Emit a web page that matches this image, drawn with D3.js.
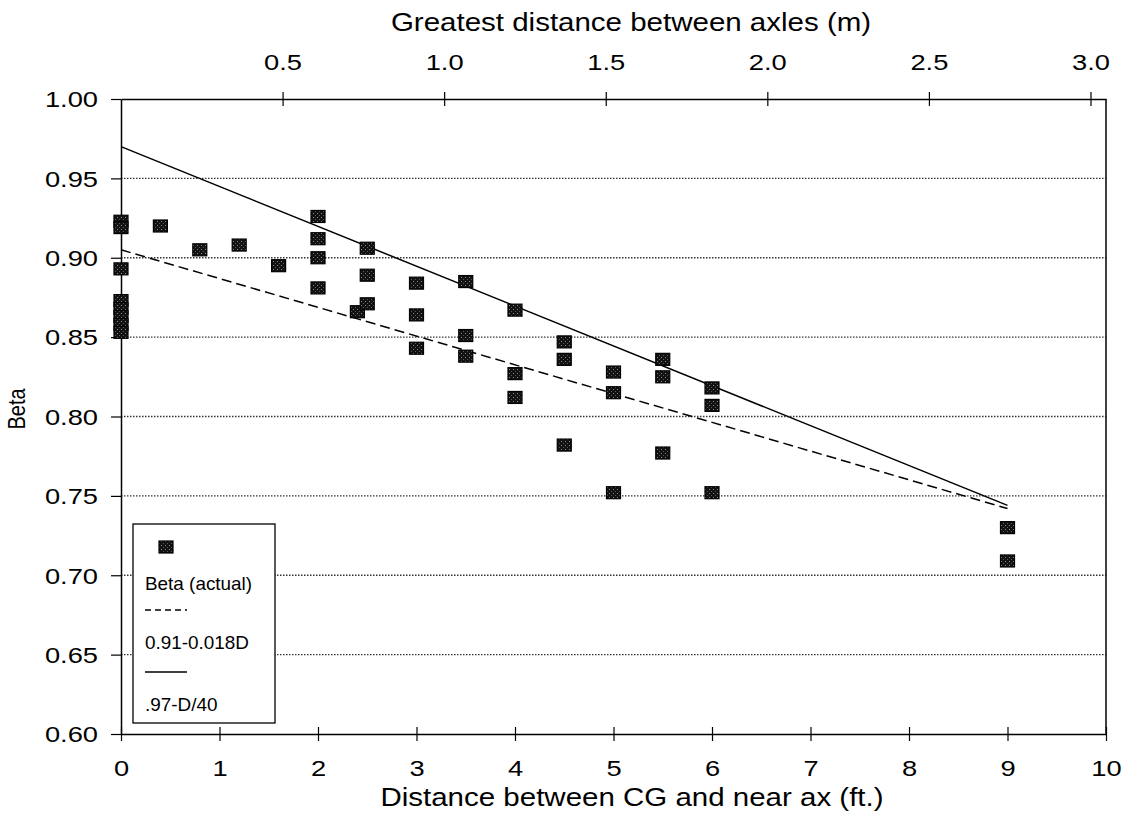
<!DOCTYPE html>
<html>
<head>
<meta charset="utf-8">
<script src="https://cdn.jsdelivr.net/npm/d3@7"></script>
<style>
  html, body { margin: 0; padding: 0; background: #fff; }
  svg { display: block; font-family: "Liberation Sans", Arial, sans-serif; }
</style>
</head>
<body>
<svg id="chart" width="1122" height="827"></svg>
<script>
// ---- data ----
const distFt = [0, 0, 0, 0, 0, 0, 0, 0,
  0.4, 0.8, 1.2, 1.6,
  2, 2, 2, 2,
  2.4,
  2.5, 2.5, 2.5,
  3, 3, 3,
  3.5, 3.5, 3.5,
  4, 4, 4,
  4.5, 4.5, 4.5,
  5, 5, 5,
  5.5, 5.5, 5.5,
  6, 6, 6,
  9, 9];
const betaActual = [0.923, 0.919, 0.893, 0.873, 0.868, 0.863, 0.858, 0.853,
  0.920, 0.905, 0.908, 0.895,
  0.926, 0.912, 0.900, 0.881,
  0.866,
  0.906, 0.889, 0.871,
  0.884, 0.864, 0.843,
  0.885, 0.851, 0.838,
  0.867, 0.827, 0.812,
  0.847, 0.836, 0.782,
  0.828, 0.815, 0.752,
  0.836, 0.825, 0.777,
  0.818, 0.807, 0.752,
  0.730, 0.709];
// fitted lines, endpoints as drawn
const dashedLineX = [0, 9];
const dashedLineY = [0.905, 0.742];
const solidLineX = [0, 9];
const solidLineY = [0.970, 0.744];

const xTicksFt = [0, 1, 2, 3, 4, 5, 6, 7, 8, 9, 10];
const xTicksM = [0.5, 1.0, 1.5, 2.0, 2.5, 3.0];
const yTicks = [0.60, 0.65, 0.70, 0.75, 0.80, 0.85, 0.90, 0.95, 1.00];
const gridTicks = [0.65, 0.70, 0.75, 0.80, 0.85, 0.90, 0.95];
const legendLabels = ["Beta (actual)", "0.91-0.018D", ".97-D/40"];
const xTitle = "Distance between CG and near ax (ft.)";
const topTitle = "Greatest distance between axles  (m)";
const yTitle = "Beta";

// ---- layout ----
const SX = 1.18;   // horizontal stretch of the scanned lettering (titles)
const SXT = 1.27;  // stretch for tick labels
const svg = d3.select("#chart");
const x = d3.scaleLinear().domain([0, 10]).range([121, 1106]);
const xTop = d3.scaleLinear().domain([0, 3.048]).range([121, 1106]);
const y = d3.scaleLinear().domain([0.6, 1.0]).range([734, 99]);

// pattern for speckled markers
const defs = svg.append("defs");
const pat = defs.append("pattern").attr("id", "speck")
  .attr("width", 4).attr("height", 4).attr("patternUnits", "userSpaceOnUse");
pat.append("rect").attr("width", 4).attr("height", 4).attr("fill", "#121212");
pat.append("rect").attr("x", 1).attr("y", 1).attr("width", 1).attr("height", 1).attr("fill", "#8a8a8a");
pat.append("rect").attr("x", 3).attr("y", 3).attr("width", 1).attr("height", 1).attr("fill", "#5a5a5a");

// gridlines
svg.append("g").selectAll("line").data(gridTicks).join("line")
  .attr("x1", x(0)).attr("x2", x(10))
  .attr("y1", d => y(d)).attr("y2", d => y(d))
  .attr("stroke", "#333").attr("stroke-width", 1.3)
  .attr("stroke-dasharray", "1.5,1.5");

// right border
svg.append("line").attr("x1", x(10)).attr("x2", x(10)).attr("y1", y(1.0)).attr("y2", y(0.6))
  .attr("stroke", "#000").attr("stroke-width", 1.5);

// bottom axis
const gB = svg.append("g").attr("transform", `translate(0,${y(0.6)})`)
  .call(d3.axisBottom(x).tickValues(xTicksFt).tickFormat(d3.format("d")).tickSizeInner(7).tickSizeOuter(0));
gB.selectAll(".tick line").attr("y1", -7).attr("y2", 7);
gB.selectAll(".tick text").attr("y", 42).attr("dy", 0)
  .attr("font-size", 21.5).attr("transform", `scale(${SXT},1)`);

// left axis
const gL = svg.append("g").attr("transform", `translate(${x(0)},0)`)
  .call(d3.axisLeft(y).tickValues(yTicks).tickFormat(d3.format(".2f")).tickSizeInner(10).tickSizeOuter(0));
gL.selectAll(".tick text").attr("x", -23 / SXT).attr("dy", "0.36em")
  .attr("font-size", 21.5).attr("transform", `scale(${SXT},1)`);

// top axis
const gT = svg.append("g").attr("transform", `translate(0,${y(1.0)})`)
  .call(d3.axisTop(xTop).tickValues(xTicksM).tickFormat(d3.format(".1f")).tickSizeInner(7).tickSizeOuter(0));
gT.selectAll(".tick line").attr("y1", -7).attr("y2", 7);
gT.selectAll(".tick text").attr("y", -29).attr("dy", 0)
  .attr("font-size", 21.5).attr("transform", `scale(${SXT},1)`);

[gB, gL, gT].forEach(g => {
  g.attr("font-family", null);
  g.selectAll("path.domain").attr("stroke", "#000").attr("stroke-width", 1.5);
  g.selectAll(".tick line").attr("stroke", "#000").attr("stroke-width", 1.2);
  g.selectAll(".tick text").attr("fill", "#000");
});

// fit lines
const lineGen = d3.line().x(d => x(d[0])).y(d => y(d[1]));
svg.append("path").datum(d3.zip(solidLineX, solidLineY)).attr("d", lineGen)
  .attr("fill", "none").attr("stroke", "#000").attr("stroke-width", 1.5);
svg.append("path").datum(d3.zip(dashedLineX, dashedLineY)).attr("d", lineGen)
  .attr("fill", "none").attr("stroke", "#000").attr("stroke-width", 1.5)
  .attr("stroke-dasharray", "10,5");

// markers
const MW = 14, MH = 12;
svg.append("g").selectAll("rect").data(d3.zip(distFt, betaActual)).join("rect")
  .attr("x", d => x(d[0]) - MW / 2).attr("y", d => y(d[1]) - MH / 2)
  .attr("width", MW).attr("height", MH)
  .attr("fill", "url(#speck)").attr("stroke", "#000").attr("stroke-width", 1.2);

// titles
function stretchedText(px, py, txt, size, anchor) {
  svg.append("text").attr("transform", `translate(${px},${py}) scale(${SX},1)`)
    .attr("text-anchor", anchor).attr("font-size", size).attr("fill", "#000").text(txt);
}
stretchedText(631, 31, topTitle, 25, "middle");
stretchedText(632, 806, xTitle, 25, "middle");
svg.append("text").attr("transform", `translate(25,409) rotate(-90) scale(1,${SX})`)
  .attr("text-anchor", "middle").attr("font-size", 20).attr("fill", "#000").text(yTitle);

// legend
const lg = svg.append("g");
lg.append("rect").attr("x", 133).attr("y", 524).attr("width", 142).attr("height", 199)
  .attr("fill", "#fff").attr("stroke", "#000").attr("stroke-width", 1.3);
lg.append("rect").attr("x", 166 - MW / 2).attr("y", 547 - MH / 2).attr("width", MW).attr("height", MH)
  .attr("fill", "url(#speck)").attr("stroke", "#000").attr("stroke-width", 1.2);
function legendText(py, txt) {
  lg.append("text").attr("transform", `translate(145,${py}) scale(1.08,1)`)
    .attr("font-size", 17.5).attr("fill", "#000").text(txt);
}
legendText(590, legendLabels[0]);
lg.append("line").attr("x1", 145).attr("x2", 187).attr("y1", 610).attr("y2", 610)
  .attr("stroke", "#000").attr("stroke-width", 1.3).attr("stroke-dasharray", "6,4");
legendText(649, legendLabels[1]);
lg.append("line").attr("x1", 145).attr("x2", 187).attr("y1", 672).attr("y2", 672)
  .attr("stroke", "#000").attr("stroke-width", 1.3);
legendText(711, legendLabels[2]);
</script>
</body>
</html>
